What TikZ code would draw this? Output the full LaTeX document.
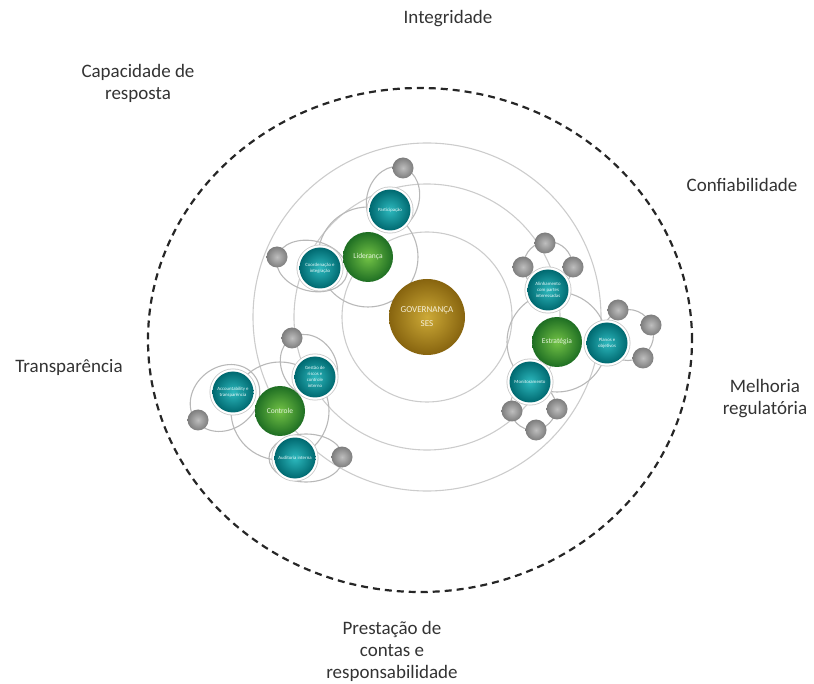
\documentclass[tikz,border=0pt]{standalone}
\usepackage{fontspec}
\setmainfont{Carlito}
\definecolor{goldin}{RGB}{205,170,55}
\definecolor{goldout}{RGB}{135,100,15}
\definecolor{greenin}{RGB}{115,195,70}
\definecolor{greenout}{RGB}{30,110,35}
\definecolor{tealin}{RGB}{45,185,190}
\definecolor{tealout}{RGB}{0,105,112}
\definecolor{grayin}{RGB}{190,190,190}
\definecolor{grayout}{RGB}{125,125,125}
\begin{document}
\begin{tikzpicture}[x=1pt,y=-1pt,
  ring/.style={draw=black!20, line width=1.1pt},
  orbit/.style={draw=black!28, line width=1.1pt},
  principle/.style={text=black!80, font=\fontsize{19}{22}\selectfont, align=center},
  core/.style={circle, inner sep=0, minimum size=76pt, shading=radial,
    inner color=goldin, outer color=goldout, text=white!80!goldin,
    font=\fontsize{9}{14}\selectfont, align=center},
  mech/.style={circle, inner sep=0, minimum size=50pt, shading=radial,
    inner color=greenin, outer color=greenout, text=white!80!greenin,
    font=\fontsize{7.5}{9}\selectfont},
  sub/.style={circle, inner sep=0, minimum size=41pt, shading=radial,
    inner color=tealin, outer color=tealout, text=white!90!tealin,
    font=\fontsize{4.8}{5.8}\selectfont, align=center,
    preaction={draw=black!22, line width=6pt},
    preaction={draw=white, line width=4.4pt}},
  dot/.style={circle, inner sep=0, minimum size=21pt, shading=radial,
    inner color=grayin, outer color=grayout},
]
\useasboundingbox (0,0) rectangle (814,684);

% outer dashed boundary
\coordinate (bound) at (420,340);
\draw[black!85, line width=2.2pt, dash pattern=on 7pt off 5pt]
  (bound) ellipse [x radius=272pt, y radius=252pt];

% concentric orbits around the core
\coordinate (core c) at (427,317);
\draw[ring] (core c) circle (85pt);
\draw[ring] (core c) circle (133pt);
\draw[ring] (core c) circle (174pt);

% mechanism orbits
\coordinate (lid c) at (368,257);
\coordinate (est c) at (557,342);
\coordinate (con c) at (280,411);
\draw[orbit] (lid c) circle (50pt);
\draw[orbit] (est c) circle (50pt);
\draw[orbit] (con c) circle (49pt);

% small orbits around the components
\draw[orbit, rotate around={73:(393,199)}] (393,199) ellipse [x radius=33pt, y radius=26pt];
\draw[orbit, rotate around={-14.3:(312,266)}] (312,266) ellipse [x radius=36pt, y radius=25pt];
\draw[orbit] (548,266) circle (24.5pt);
\draw[orbit] (628,335) circle (25.5pt);
\draw[orbit] (533,407) circle (23pt);
\draw[orbit, rotate around={38.7:(225,398)}] (225,398) ellipse [x radius=37pt, y radius=31pt];
\draw[orbit, rotate around={120.5:(309,366)}] (309,366) ellipse [x radius=33pt, y radius=27pt];
\draw[orbit] (306,458) ellipse [x radius=37pt, y radius=24pt];

% gray satellites
\node[dot] (g1) at (403,168) {};
\node[dot] (g2) at (277,257) {};
\node[dot] (g3) at (545,243) {};
\node[dot] (g4) at (523,267) {};
\node[dot] (g5) at (573,267) {};
\node[dot] (g6) at (618,310) {};
\node[dot] (g7) at (651,325) {};
\node[dot] (g8) at (643,358) {};
\node[dot] (g9) at (512,411) {};
\node[dot] (g10) at (536,430) {};
\node[dot] (g11) at (557,409) {};
\node[dot] (g12) at (198,420) {};
\node[dot] (g13) at (292,338) {};
\node[dot] (g14) at (342,457) {};

% core
\node[core] (core) at (core c) {GOVERNANÇA\\SES};

% mechanisms
\node[mech] (lid) at (lid c) {Liderança};
\node[mech] (est) at (est c) {Estratégia};
\node[mech] (con) at (con c) {Controle};

% components
\node[sub] (lid1) at (390,210) {Participação};
\node[sub] (lid2) at (320,268) {Coordenação e\\integração};
\node[sub] (est1) at (548,290) {Alinhamento\\com partes\\interessadas};
\node[sub] (est2) at (607,343) {Planos e\\objetivos};
\node[sub] (est3) at (530,382) {Monitoramento};
\node[sub] (con1) at (233,392) {Accountability e\\transparência};
\node[sub] (con2) at (315,377) {Gestão de\\riscos e\\controle\\interno};
\node[sub] (con3) at (295,458) {Auditoria interna};

% principles
\node[principle] (p1) at (448,19) {Integridade};
\node[principle] (p2) at (138,83) {Capacidade de\\resposta};
\node[principle] (p3) at (742,185) {Confiabilidade};
\node[principle] (p4) at (69,367) {Transparência};
\node[principle] (p5) at (765,399) {Melhoria\\regulatória};
\node[principle] (p6) at (392,651) {Prestação de\\contas e\\responsabilidade};
\end{tikzpicture}
\end{document}
